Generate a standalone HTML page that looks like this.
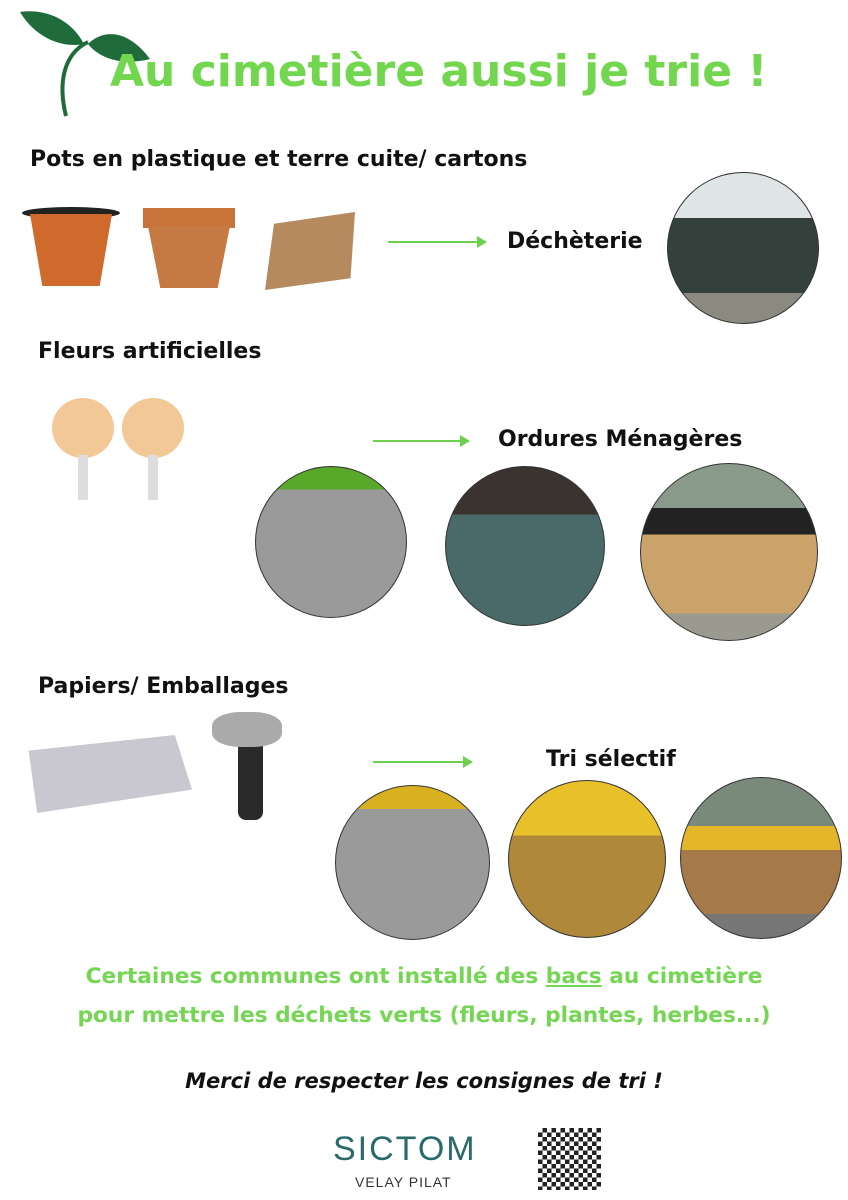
<!DOCTYPE html>
<html><head><meta charset="utf-8">
<style>
*{margin:0;padding:0;box-sizing:border-box}
body{width:848px;height:1200px;background:#fff;position:relative;overflow:hidden;font-family:"DejaVu Sans","Liberation Sans",sans-serif}
.a{position:absolute}
.h{position:absolute;font-weight:bold;font-size:22px;color:#111;white-space:nowrap}
.arrow{position:absolute;height:2px;background:#6fcf4f}
.arrow:after{content:"";position:absolute;right:-2px;top:-5px;border-left:10px solid #6fcf4f;border-top:6px solid transparent;border-bottom:6px solid transparent}
.c{position:absolute;border-radius:50%;border:1px solid #333;overflow:hidden}
.g{position:absolute;font-weight:bold;font-size:21.7px;color:#74d653;width:848px;text-align:center;white-space:nowrap}
</style></head><body>
<svg class="a" style="left:18px;top:4px" width="135" height="115" viewBox="0 0 135 115">
<path d="M48 112 C40 80 45 50 70 38" stroke="#1f6b3a" stroke-width="4" fill="none"/>
<path d="M66 40 C50 10 20 5 2 8 C15 30 40 45 66 40Z" fill="#1f6b3a"/>
<path d="M70 40 C85 25 110 25 132 55 C105 62 82 55 70 40Z" fill="#1f6b3a"/>
</svg>
<div class="a" style="left:110px;top:46px;font-size:44px;font-weight:bold;color:#72d74e;white-space:nowrap">Au cimetière aussi je trie !</div>

<div class="h" style="left:30px;top:147px">Pots en plastique et terre cuite/ cartons</div>
<div class="a" style="left:22px;top:207px;width:98px;height:12px;background:#222;border-radius:50%"></div>
<div class="a" style="left:30px;top:214px;width:82px;height:72px;background:#cf6a2c;clip-path:polygon(0 0,100% 0,85% 100%,15% 100%)"></div>
<div class="a" style="left:143px;top:208px;width:92px;height:20px;background:#c8733a"></div>
<div class="a" style="left:148px;top:226px;width:82px;height:62px;background:#c57a44;clip-path:polygon(0 0,100% 0,85% 100%,15% 100%)"></div>
<div class="a" style="left:265px;top:212px;width:90px;height:78px;background:#b48a5e;clip-path:polygon(10% 15%,100% 0,95% 85%,0 100%)"></div>
<div class="arrow" style="left:388px;top:241px;width:97px"></div>
<div class="h" style="left:507px;top:229px">Déchèterie</div>
<div class="c" style="left:667px;top:172px;width:152px;height:152px;background:linear-gradient(#dfe4e6 0 30%,#34403c 30% 80%,#8a8a80 80%)"></div>

<div class="h" style="left:38px;top:339px">Fleurs artificielles</div>
<div class="a" style="left:52px;top:398px;width:62px;height:60px;border-radius:50%;background:#f2c896"></div>
<div class="a" style="left:122px;top:398px;width:62px;height:60px;border-radius:50%;background:#f2c896"></div>
<div class="a" style="left:78px;top:455px;width:10px;height:45px;background:#ddd"></div>
<div class="a" style="left:148px;top:455px;width:10px;height:45px;background:#ddd"></div>
<div class="arrow" style="left:373px;top:440px;width:95px"></div>
<div class="h" style="left:498px;top:427px">Ordures Ménagères</div>
<div class="c" style="left:255px;top:466px;width:152px;height:152px;background:linear-gradient(#5aa82a 0 15%,#9a9a9a 15%)"></div>
<div class="c" style="left:445px;top:466px;width:160px;height:160px;background:linear-gradient(#3a3330 0 30%,#4a6a6a 30%)"></div>
<div class="c" style="left:640px;top:463px;width:178px;height:178px;background:linear-gradient(#8a9a8a 0 25%,#222 25% 40%,#c9a36a 40% 85%,#9a9a90 85%)"></div>

<div class="h" style="left:38px;top:674px">Papiers/ Emballages</div>
<div class="a" style="left:20px;top:735px;width:172px;height:78px;background:#c9c7d0;clip-path:polygon(5% 20%,90% 0,100% 70%,10% 100%)"></div>
<div class="a" style="left:238px;top:735px;width:25px;height:85px;background:#2a2a2a;border-radius:8px"></div>
<div class="a" style="left:212px;top:712px;width:70px;height:35px;background:#aaa;border-radius:40%"></div>
<div class="arrow" style="left:373px;top:761px;width:98px"></div>
<div class="h" style="left:546px;top:747px">Tri sélectif</div>
<div class="c" style="left:335px;top:785px;width:155px;height:155px;background:linear-gradient(#d9b021 0 15%,#9a9a9a 15%)"></div>
<div class="c" style="left:508px;top:780px;width:158px;height:158px;background:linear-gradient(#e8c02a 0 35%,#b0883a 35%)"></div>
<div class="c" style="left:680px;top:777px;width:162px;height:162px;background:linear-gradient(#7a8a7a 0 30%,#e5b52a 30% 45%,#a67a48 45% 85%,#777 85%)"></div>

<div class="g" style="top:964px">Certaines communes ont installé des <u>bacs</u> au cimetière</div>
<div class="g" style="top:1003px">pour mettre les déchets verts (fleurs, plantes, herbes...)</div>
<div class="a" style="left:0;top:1069px;width:848px;text-align:center;font-weight:bold;font-style:italic;font-size:21px;color:#111">Merci de respecter les consignes de tri !</div>
<div class="a" style="left:333px;top:1130px;font-family:'Liberation Sans',sans-serif;font-size:34px;color:#2a6a6a;letter-spacing:2px">SICTOM</div>
<div class="a" style="left:355px;top:1174px;font-family:'Liberation Sans',sans-serif;font-size:14px;color:#333;letter-spacing:1px">VELAY PILAT</div>
<div class="a" style="left:538px;top:1128px;width:63px;height:62px;background:repeating-conic-gradient(#222 0 25%,#fff 0 50%) 0 0/9px 9px"></div>
</body></html>
